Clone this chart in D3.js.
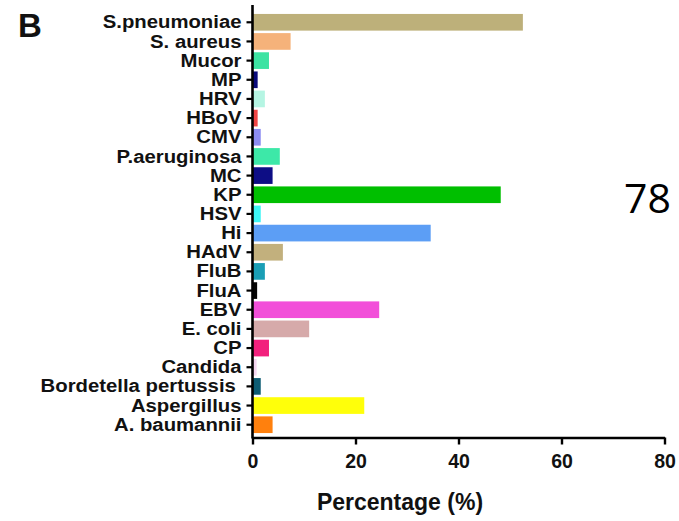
<!DOCTYPE html>
<html>
<head>
<meta charset="utf-8">
<script src="https://cdn.jsdelivr.net/npm/d3@7"></script>
<style>
  html, body { margin: 0; padding: 0; background: #fff; }
  svg { display: block; }
</style>
</head>
<body>
<svg id="chart" width="679" height="521"></svg>
<script>
// Pathogen detection rates (%), listed top to bottom
const pathogens = [
  "S.pneumoniae", "S. aureus", "Mucor", "MP", "HRV", "HBoV", "CMV",
  "P.aeruginosa", "MC", "KP", "HSV", "Hi", "HAdV", "FluB", "FluA",
  "EBV", "E. coli", "CP", "Candida", "Bordetella pertussis ",
  "Aspergillus", "A. baumannii"
];
const percentages = [
  52.5, 7.4, 3.2, 1.0, 2.4, 1.0, 1.6,
  5.3, 3.9, 48.2, 1.6, 34.6, 5.9, 2.4, 0.9,
  24.6, 11.0, 3.2, 0.8, 1.6,
  21.7, 3.9
];
const barColors = [
  "#BDB07A", "#F5B27A", "#3DE3A3", "#0A0A7A", "#B5F5E3", "#F04545", "#8C8CF2",
  "#3DE8A8", "#0D0D85", "#00BF00", "#3DF5F5", "#5C9EF5", "#C2B07D", "#1A9EB5", "#050505",
  "#F24FD9", "#D6AAAA", "#F2207D", "#F5D6F0", "#0D5C73",
  "#FFFF0A", "#FF800D"
];
const xTicks = [0, 20, 40, 60, 80];

const svg = d3.select("#chart");
const font = "'Liberation Sans', Arial, Helvetica, sans-serif";

const x = d3.scaleLinear().domain([0, 80]).range([252.5, 664.5]);
const y = d3.scaleBand()
  .domain(pathogens)
  .range([12.7, 434.3])
  .paddingInner(0.13)
  .paddingOuter(0.065);

const axisY = 437.5;
const labelStretch = 1.07;

// bars
svg.append("g")
  .selectAll("rect")
  .data(pathogens)
  .join("rect")
  .attr("x", x(0))
  .attr("y", d => y(d))
  .attr("width", (d, i) => x(percentages[i]) - x(0))
  .attr("height", y.bandwidth())
  .attr("fill", (d, i) => barColors[i]);

// category axis
const gy = svg.append("g")
  .attr("transform", `translate(${x(0)},0)`)
  .call(d3.axisLeft(y).tickSize(6).tickPadding(5));
gy.select(".domain").remove();
gy.selectAll(".tick line").attr("stroke", "#000").attr("stroke-width", 2.2);
gy.selectAll(".tick text")
  .attr("x", -11 / labelStretch)
  .attr("transform", `scale(${labelStretch},1)`)
  .attr("fill", "#111")
  .style("font-family", font)
  .style("font-weight", "bold")
  .style("font-size", "19px")
  .style("white-space", "pre");
svg.append("line")
  .attr("x1", x(0)).attr("x2", x(0))
  .attr("y1", 5).attr("y2", axisY + 1)
  .attr("stroke", "#000").attr("stroke-width", 2.6);

// value axis
const gx = svg.append("g")
  .attr("transform", `translate(0,${axisY})`)
  .call(d3.axisBottom(x).tickValues(xTicks).tickSize(7).tickSizeOuter(0).tickPadding(10));
gx.select(".domain").attr("stroke", "#000").attr("stroke-width", 2.6);
gx.selectAll(".tick line").attr("stroke", "#000").attr("stroke-width", 2.4);
gx.selectAll(".tick text")
  .attr("fill", "#111")
  .style("font-family", font)
  .style("font-weight", "bold")
  .style("font-size", "19.5px");

// axis title
svg.append("text")
  .attr("x", 400)
  .attr("y", 510)
  .attr("text-anchor", "middle")
  .attr("fill", "#111")
  .style("font-family", font)
  .style("font-weight", "bold")
  .style("font-size", "23px")
  .text("Percentage (%)");

// panel letter
svg.append("text")
  .attr("x", 18)
  .attr("y", 37)
  .attr("fill", "#111")
  .style("font-family", font)
  .style("font-weight", "bold")
  .style("font-size", "33px")
  .text("B");

// page number
svg.append("text")
  .attr("x", 624)
  .attr("y", 213)
  .attr("fill", "#000")
  .style("font-family", "'Open Sans', 'Noto Sans', sans-serif")
  .style("font-size", "41px")
  .text("78");
</script>
</body>
</html>
